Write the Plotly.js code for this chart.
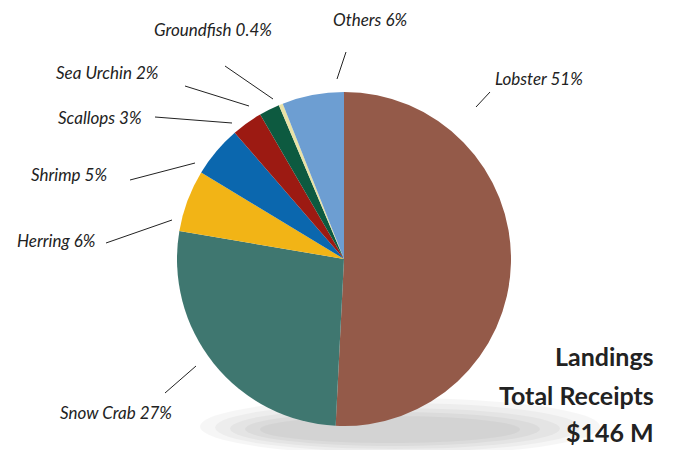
<!DOCTYPE html>
<html>
<head>
<meta charset="utf-8">
<script src="https://cdn.plot.ly/plotly-3.0.1.min.js"></script>
<style>html,body{margin:0;padding:0;background:#fff;}#chart{width:674px;height:450px;}</style>
</head>
<body>
<div id="chart"></div>
<script>
const species = ["Lobster", "Snow Crab", "Herring", "Shrimp", "Scallops", "Sea Urchin", "Groundfish", "Others"];
const shares = [51, 27, 6, 5, 3, 2, 0.4, 6];
const shareLabels = ["51%", "27%", "6%", "5%", "3%", "2%", "0.4%", "6%"];
const sliceColors = ["#945a49", "#3f7770", "#f2b416", "#0b67ae", "#9c1a12", "#0d5a40", "#e9e2a6", "#6d9ed2"];
const totalLines = ["Landings", "Total Receipts", "$146 M"];

const W = 674, H = 450;
const px = x => x / W;
const py = y => 1 - y / H;

// label placement (pixels): text centre, leader line start/end
const labelPos = [
  {t: [539, 78], l: [476, 107, 490, 92]},
  {t: [116, 412], l: [165, 393, 196, 366]},
  {t: [56, 240], l: [106, 243, 172, 220]},
  {t: [69, 175], l: [130, 180, 195, 163]},
  {t: [100, 117], l: [155, 117, 232, 123]},
  {t: [107, 72], l: [185, 86, 249, 106]},
  {t: [213, 30], l: [225, 66, 273, 99]},
  {t: [370, 20], l: [346, 52, 337, 79]}
];

const annotations = species.map((s, i) => ({
  xref: 'paper', yref: 'paper',
  x: px(labelPos[i].t[0]), y: py(labelPos[i].t[1]),
  xanchor: 'center', yanchor: 'middle',
  text: '<i>' + s + ' ' + shareLabels[i] + '</i>',
  showarrow: false,
  font: {family: 'Lato, "Open Sans", sans-serif', size: 17, color: '#222'}
}));
const totalY = [356, 395, 432];
totalLines.forEach((t, i) => annotations.push({
  xref: 'paper', yref: 'paper', x: px(656), y: py(totalY[i]),
  xanchor: 'right', yanchor: 'middle', text: '<b>' + t + '</b>', showarrow: false,
  font: {family: 'Lato, "Open Sans", sans-serif', size: 25, color: '#222'}
}));

const shapes = labelPos.map(p => ({
  type: 'line', xref: 'paper', yref: 'paper',
  x0: px(p.l[0]), y0: py(p.l[1]), x1: px(p.l[2]), y1: py(p.l[3]),
  line: {color: '#222', width: 1}
}));
// soft shadow under the pie (layered translucent ellipses)
const shadowRings = [[200, 600, 455, 398], [215, 580, 452, 403], [230, 560, 449, 408], [245, 540, 446, 412], [260, 520, 443, 416]];
shadowRings.forEach(r => shapes.push({type: 'circle', xref: 'paper', yref: 'paper', layer: 'below',
  x0: px(r[0]), x1: px(r[1]), y0: py(r[2]), y1: py(r[3]),
  fillcolor: 'rgba(0,0,0,0.035)', line: {width: 0}}));

const trace = {
  type: 'pie',
  labels: species,
  values: shares,
  sort: false,
  direction: 'clockwise',
  rotation: 0,
  textinfo: 'none',
  hoverinfo: 'label+percent',
  marker: {colors: sliceColors, line: {width: 0}},
  domain: {x: [px(177), px(511)], y: [py(426), py(92)]},
  showlegend: false
};

const layout = {
  width: W, height: H,
  margin: {l: 0, r: 0, t: 0, b: 0},
  paper_bgcolor: '#fff',
  showlegend: false,
  annotations: annotations,
  shapes: shapes
};

Plotly.newPlot('chart', [trace], layout, {displayModeBar: false, staticPlot: true});
</script>
</body>
</html>
